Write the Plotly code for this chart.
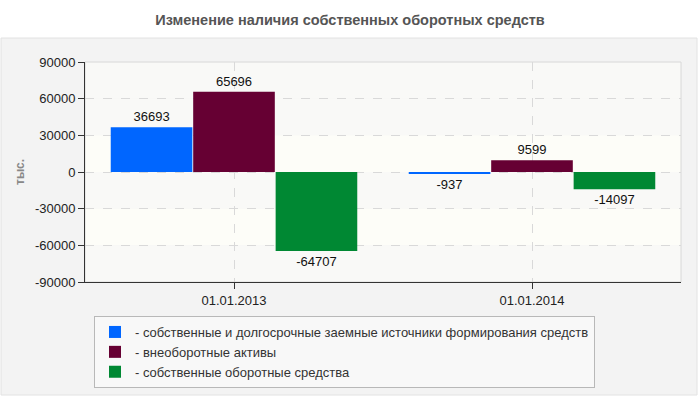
import plotly.graph_objects as go

# данные
categories = ["01.01.2013", "01.01.2014"]
series_names = [
    "- собственные и долгосрочные заемные источники формирования средств",
    "- внеоборотные активы",
    "- собственные оборотные средства",
]
own_and_longterm = [36693, -937]
noncurrent_assets = [65696, 9599]
own_working_capital = [-64707, -14097]
tick_values = [90000, 60000, 30000, 0, -30000, -60000, -90000]

colors = ["#0066ff", "#660033", "#008833"]
FONT = "Liberation Sans"
PW, PH = 596, 220  # размер области построения

fig = go.Figure()
for name, vals, col in zip(series_names,
                           [own_and_longterm, noncurrent_assets, own_working_capital],
                           colors):
    fig.add_trace(go.Bar(
        x=categories, y=vals, name=name,
        marker=dict(color=col, line=dict(width=0)),
        text=[str(v) for v in vals], textposition="outside",
        textfont=dict(family=FONT, size=13, color="#111"),
        cliponaxis=False,
    ))

# фон панели
fig.add_shape(type="rect", xref="paper", yref="paper",
              x0=-84/PW, x1=1 + 16/PW, y0=-113/PH, y1=1 + 24/PH,
              fillcolor="#f3f3f3", line=dict(color="#e2e2e2", width=1), layer="below")
# полосы фона графика
bands = [(90000, 60000, "#f9f9f7"), (60000, 30000, "#f9f9f7"), (30000, 0, "#fdfdf8"),
         (0, -30000, "#f9f9f7"), (-30000, -60000, "#fdfdf8"), (-60000, -90000, "#f9f9f7")]
for y0, y1, c in bands:
    fig.add_shape(type="rect", xref="paper", yref="y", x0=0, x1=1, y0=y0, y1=y1,
                  fillcolor=c, line=dict(width=0), layer="below")
fig.add_shape(type="rect", xref="paper", yref="paper", x0=0, x1=1, y0=0, y1=1,
              line=dict(color="#d8d8d8", width=1), layer="below")

fig.add_annotation(text="<b>тыс.</b>", xref="paper", yref="paper",
                   x=-65/PW, y=0.5, textangle=-90, showarrow=False,
                   xanchor="center", yanchor="middle",
                   font=dict(family=FONT, size=12, color="#888"))

fig.update_layout(
    width=700, height=400,
    margin=dict(l=85, r=19, t=62, b=118, autoexpand=False),
    paper_bgcolor="white", plot_bgcolor="rgba(0,0,0,0)",
    font=dict(family=FONT, size=13, color="#222"),
    title=dict(text="<b>Изменение наличия собственных оборотных средств</b>",
               x=0.5, xanchor="center", y=0.95, yanchor="middle",
               font=dict(family=FONT, size=14.5, color="#555")),
    barmode="group", bargap=0.17, bargroupgap=0.01,
    showlegend=True,
    legend=dict(x=9/PW, xanchor="left", y=-34/PH, yanchor="top",
                bgcolor="#f8f8f8", bordercolor="#b8b8b8", borderwidth=1,
                font=dict(family=FONT, size=13, color="#333"),
                tracegroupgap=0, itemwidth=30),
)
fig.update_yaxes(range=[-90000, 90000], tickvals=tick_values,
                 ticktext=[str(v) for v in tick_values], automargin=False,
                 showgrid=True, gridcolor="#d9d9d9", griddash="dash",
                 zeroline=False, showline=True, linecolor="#333", linewidth=1,
                 ticks="outside", ticklen=6, tickcolor="#333")
fig.update_xaxes(showgrid=True, gridcolor="#d9d9d9", griddash="dash", automargin=False,
                 showline=True, linecolor="#333", linewidth=1,
                 ticks="outside", ticklen=6, tickcolor="#333")

# убрать отступ страницы, чтобы график стоял в углу окна
fig.write_html("out.html", config={"displayModeBar": False},
               post_script="document.body.style.margin='0';")
